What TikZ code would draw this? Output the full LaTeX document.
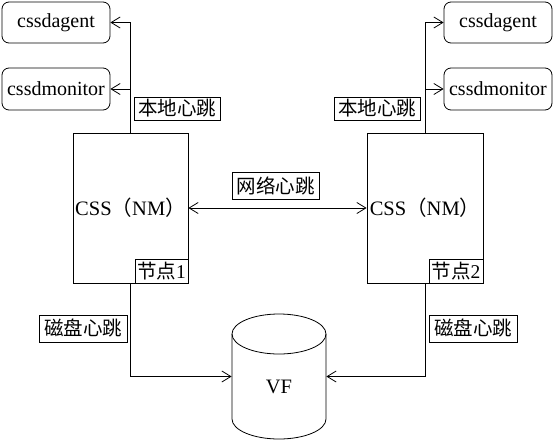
\documentclass[tikz,border=0pt]{standalone}
\usepackage{fontspec}
\setmainfont{Liberation Serif}
\newfontfamily\cjk{Noto Sans CJK SC}
\usetikzlibrary{arrows.meta}
\begin{document}
\begin{tikzpicture}[x=1pt,y=1pt,
  line width=0.8pt,
  conn/.style={-{Straight Barb[length=9pt,width=11pt]}},
  dconn/.style={{Straight Barb[length=9pt,width=11pt]}-{Straight Barb[length=9pt,width=11pt]}},
  proc/.style={draw, rounded corners=7pt, minimum width=108pt, minimum height=41pt, inner sep=0pt, font=\fontsize{20}{24}\selectfont},
  hostbox/.style={draw, minimum height=150pt, inner sep=0pt, font=\fontsize{20.5}{24}\selectfont},
  tag/.style={draw, fill=white, inner sep=0pt, minimum height=27pt, font=\cjk\fontsize{19.5}{24}\selectfont},
]
\useasboundingbox (0,0) rectangle (554,-442);

% process boxes
\node[proc] (agentL) at (56,-22.5) {cssdagent};
\node[proc, minimum height=42pt] (monL) at (56,-89) {cssdmonitor};
\node[proc] (agentR) at (498,-22.5) {cssdagent};
\node[proc, minimum height=42pt] (monR) at (498,-89) {cssdmonitor};

% host nodes
\node[hostbox, minimum width=115pt] (n1) at (130.5,-208) {CSS{\cjk （}NM{\cjk ）}};
\node[hostbox, minimum width=116pt] (n2) at (425,-208) {CSS{\cjk （}NM{\cjk ）}};
\node[tag, minimum width=53pt, minimum height=24pt, anchor=south east] (t1) at (n1.south east) {节点{\fontspec{Liberation Serif}1}};
\node[tag, minimum width=54pt, minimum height=24pt, anchor=south east] (t2) at (n2.south east) {节点{\fontspec{Liberation Serif}2}};

% disk
\node[minimum width=94pt, minimum height=125pt, inner sep=0pt] (vf) at (279,-376.5) {};
\draw (232,-334) -- (232,-419)
  arc[start angle=180, end angle=360, x radius=47, y radius=20]
  -- (326,-334);
\draw (279,-334) ellipse[x radius=47, y radius=20];
\node[font=\fontsize{20.5}{24}\selectfont] (vft) at (279,-387) {VF};

% connectors
\draw[conn] (n1.north) |- (agentL.east);
\draw[conn] (n1.north) |- (monL.east);
\draw[conn] (n2.north) |- (agentR.west);
\draw[conn] (n2.north) |- (monR.west);
\draw[dconn] (n1.east) -- (n2.west);
\draw[conn] (n1.south) |- (vf.west);
\draw[conn] (n2.south) |- (vf.east);

% labels
\node[tag, minimum width=86pt, minimum height=23pt] (lh1) at (177,-108.5) {本地心跳};
\node[tag, minimum width=86pt, minimum height=23pt] (lh2) at (377,-108.5) {本地心跳};
\node[tag, minimum width=87pt] (net) at (275.5,-185.5) {网络心跳};
\node[tag, minimum width=88pt] (dk1) at (83,-328.5) {磁盘心跳};
\node[tag, minimum width=88pt] (dk2) at (473,-328.5) {磁盘心跳};
\end{tikzpicture}
\end{document}
